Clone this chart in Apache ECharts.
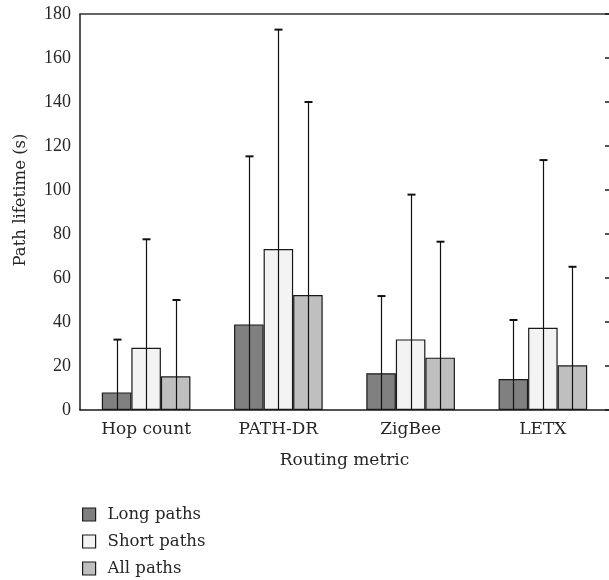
<!DOCTYPE html>
<html><head><meta charset="utf-8">
<script src="https://cdn.jsdelivr.net/npm/echarts@6/dist/echarts.min.js"></script>
<style>html,body{margin:0;padding:0;background:#fff}#c{width:609px;height:580px}</style>
</head><body><div id="c"></div>
<script>
const categories = ['Hop count', 'PATH-DR', 'ZigBee', 'LETX'];
const seriesNames = ['Long paths', 'Short paths', 'All paths'];
const longMean = [8, 38.9, 16.7, 14.1];
const longTop = [32, 115.3, 51.8, 40.9];
const shortMean = [28.3, 73.2, 32.1, 37.4];
const shortTop = [77.6, 172.9, 97.9, 113.6];
const allMean = [15.3, 52.3, 23.8, 20.3];
const allTop = [50, 140, 76.5, 65.1];
const yTicks = [0, 20, 40, 60, 80, 100, 120, 140, 160, 180];
const colors = ['#808080', '#f2f3f2', '#bfbfbf'];

const means = [longMean, shortMean, allMean];
const tops = [longTop, shortTop, allTop];
const catGap = 0.33;
const font = 'DejaVu Serif';
const numFont = 'Liberation Serif';
const ink = '#262626';

const series = [];
means.forEach((m, i) => {
  series.push({
    name: seriesNames[i], type: 'bar', data: m, barGap: '0%', barCategoryGap: '33%',
    itemStyle: { color: colors[i], borderColor: '#1a1a1a', borderWidth: 1.2 }
  });
});
means.forEach((m, i) => {
  series.push({
    type: 'custom', name: 'err' + i, z: 5,
    data: m.map((v, k) => [k, v, tops[i][k]]),
    renderItem: function (params, api) {
      const k = api.value(0);
      const band = api.size([1, 0])[0];
      const bw = band * (1 - catGap) / 3;
      const base = api.coord([k, 0]);
      const top = api.coord([k, api.value(2)]);
      const x = Math.round(base[0] + (i - 1) * bw) + 0.5;
      return { type: 'group', children: [
        { type: 'line', shape: { x1: x, y1: base[1], x2: x, y2: top[1] }, style: { stroke: '#111', lineWidth: 1.2 } },
        { type: 'line', shape: { x1: x - 4, y1: top[1], x2: x + 4, y2: top[1] }, style: { stroke: '#111', lineWidth: 2 } }
      ]};
    }
  });
});

const chart = echarts.init(document.getElementById('c'), null, { renderer: 'canvas' });
chart.setOption({
  animation: false,
  textStyle: { fontFamily: font },
  grid: { left: 80, right: 0, top: 14, height: 396, show: false },
  legend: {
    data: seriesNames, orient: 'vertical', left: 82, top: 505, itemGap: 8, padding: 0,
    itemWidth: 13, itemHeight: 13, icon: 'rect',
    itemStyle: { borderColor: '#1a1a1a', borderWidth: 1.2 },
    textStyle: { fontFamily: font, fontSize: 16.5, color: ink, lineHeight: 19, padding: [0, 0, 0, 7] }
  },
  xAxis: [{
    type: 'category', data: categories,
    name: 'Routing metric', nameLocation: 'middle', nameGap: 42,
    nameTextStyle: { fontFamily: font, fontSize: 17, color: ink },
    axisLine: { lineStyle: { color: '#1a1a1a', width: 1.5 } },
    axisTick: { show: false },
    axisLabel: { fontFamily: font, fontSize: 17, color: ink, margin: 11 }
  }, {
    type: 'category', data: categories, position: 'top',
    axisLine: { show: true, onZero: false, lineStyle: { color: '#333', width: 1.5 } },
    axisTick: { show: false }, axisLabel: { show: false }
  }],
  yAxis: [{
    type: 'value', min: 0, max: 180, interval: 20,
    name: 'Path lifetime (s)', nameLocation: 'middle', nameGap: 51,
    nameTextStyle: { fontFamily: font, fontSize: 16.5, color: ink, padding: [0, 0, 0, 24] },
    axisLine: { show: true, lineStyle: { color: '#1a1a1a', width: 1.5 } },
    axisTick: { show: false },
    splitLine: { show: false },
    axisLabel: { fontFamily: numFont, fontSize: 18, color: ink, margin: 9,
      formatter: v => yTicks.includes(v) ? String(v) : '' }
  }, {
    type: 'value', min: 0, max: 180, interval: 20, position: 'right',
    axisLine: { show: false },
    axisTick: { show: true, inside: true, length: 4, lineStyle: { color: '#1a1a1a', width: 1.5 } },
    axisLabel: { show: false }, splitLine: { show: false }
  }],
  series: series
});
</script></body></html>
